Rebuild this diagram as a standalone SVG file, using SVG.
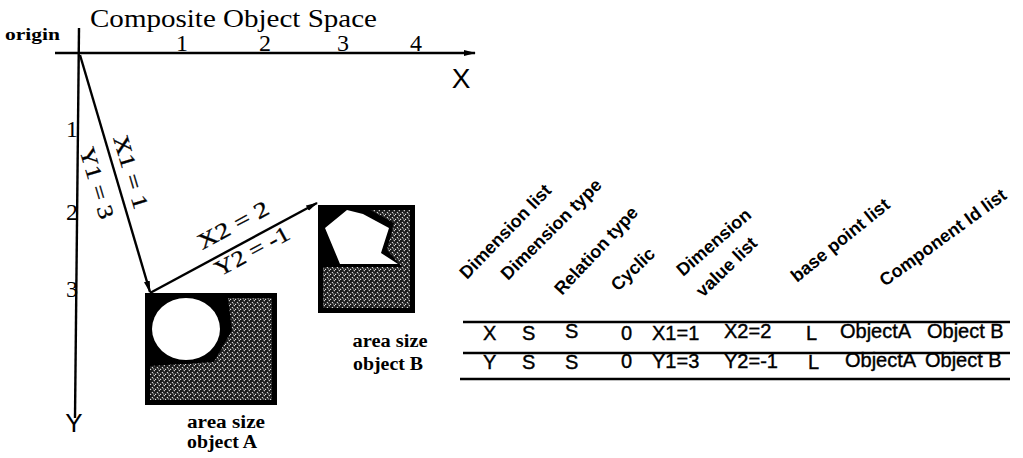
<svg xmlns="http://www.w3.org/2000/svg" width="1023" height="458" viewBox="0 0 1023 458">
<style>
.ser{font-family:"Liberation Serif","DejaVu Serif",serif;fill:#000}
.sans{font-family:"Liberation Sans",Arial,sans-serif;fill:#000}
.hdr{font-family:"Liberation Sans",Arial,sans-serif;font-size:18px;font-weight:bold;fill:#000}
.cell{font-family:"Liberation Sans",Arial,sans-serif;font-size:20px;fill:#000;stroke:#000;stroke-width:0.4}
.ax{stroke:#000;stroke-width:2.4;fill:none}
.vec{stroke:#000;stroke-width:2.4;fill:none;marker-end:url(#ah)}
.rule{stroke:#000;stroke-width:2.6}
.lbl{font-family:"Liberation Serif","DejaVu Serif",serif;font-size:22px;fill:#000;stroke:#000;stroke-width:0.3}
</style>
<defs>
<marker id="ah" markerWidth="12" markerHeight="8" refX="11" refY="4" orient="auto" markerUnits="userSpaceOnUse">
<path d="M0,1 L12,4 L0,7 z" fill="#000"/>
</marker>
<pattern id="speck" width="5" height="5" patternUnits="userSpaceOnUse">
<rect width="5" height="5" fill="#1c1c1c"/>
<path d="M0 5 L5 0" stroke="#e6e6e6" stroke-width="1.1" stroke-dasharray="1.4 1.3"/>
<rect x="3" y="3.4" width="1.2" height="1" fill="#b0b0b0"/>
</pattern>
</defs>
<rect width="1023" height="458" fill="#fff"/>

<g id="title">
<text class="ser" x="90" y="27" font-size="25" textLength="287" lengthAdjust="spacingAndGlyphs">Composite Object Space</text>
<text class="ser" x="5" y="40" font-size="17" font-weight="bold" textLength="55" lengthAdjust="spacingAndGlyphs">origin</text>
</g>

<g id="axes">
<line class="ax" x1="55" y1="53" x2="475" y2="53" marker-end="url(#ah)"/>
<line class="ax" x1="79" y1="28" x2="75" y2="418"/>
<text class="ser" x="182" y="51" font-size="24" text-anchor="middle">1</text>
<text class="ser" x="265" y="51" font-size="24" text-anchor="middle">2</text>
<text class="ser" x="343" y="51" font-size="24" text-anchor="middle">3</text>
<text class="ser" x="416" y="51" font-size="24" text-anchor="middle">4</text>
<text class="sans" x="461" y="88" font-size="28" text-anchor="middle">X</text>
<text class="ser" x="72" y="137" font-size="24" text-anchor="middle">1</text>
<text class="ser" x="72" y="220" font-size="24" text-anchor="middle">2</text>
<text class="ser" x="72" y="297" font-size="24" text-anchor="middle">3</text>
<text class="sans" x="74" y="432" font-size="26" text-anchor="middle">Y</text>
</g>

<g id="connectors">
<line class="vec" x1="80" y1="55" x2="150" y2="292"/>
<line class="vec" x1="150" y1="293" x2="317" y2="203"/>
<text class="lbl" text-anchor="middle" dominant-baseline="central" transform="translate(131,172) rotate(73.5)" textLength="76" lengthAdjust="spacingAndGlyphs">X1 = 1</text>
<text class="lbl" text-anchor="middle" dominant-baseline="central" transform="translate(97,183) rotate(73.5)" textLength="74" lengthAdjust="spacingAndGlyphs">Y1 = 3</text>
<text class="lbl" text-anchor="middle" dominant-baseline="central" transform="translate(233,225) rotate(-28.3)" textLength="78" lengthAdjust="spacingAndGlyphs">X2 = 2</text>
<text class="lbl" text-anchor="middle" dominant-baseline="central" transform="translate(252,251) rotate(-28.3)" textLength="82" lengthAdjust="spacingAndGlyphs">Y2 = -1</text>
</g>

<g id="objectA">
<rect x="145" y="293" width="132" height="112" fill="#000"/>
<rect x="150" y="298" width="122" height="102" fill="url(#speck)"/>
<path d="M150 298 H228 L232 330 L214 362 L150 366 Z" fill="#000"/>
<ellipse cx="186" cy="329" rx="38" ry="35" fill="#000"/>
<ellipse cx="186" cy="329" rx="34" ry="31" fill="#fff"/>
<text class="ser" x="226" y="428" font-size="18" font-weight="bold" text-anchor="middle" textLength="78" lengthAdjust="spacingAndGlyphs">area size</text>
<text class="ser" x="222" y="448" font-size="18" font-weight="bold" text-anchor="middle" textLength="70" lengthAdjust="spacingAndGlyphs">object A</text>
</g>

<g id="objectB">
<rect x="318" y="205" width="97" height="108" fill="#000"/>
<rect x="323" y="210" width="87" height="98" fill="url(#speck)"/>
<path d="M323 210 H370 L394 223 L387 250 L402 267 H323 Z" fill="#000"/>
<polygon points="325,228 347,210 363,214 389,228 381,253 398,264 340,264" fill="#fff"/>
<text class="ser" x="390" y="347" font-size="18" font-weight="bold" text-anchor="middle" textLength="75" lengthAdjust="spacingAndGlyphs">area size</text>
<text class="ser" x="388" y="370" font-size="18" font-weight="bold" text-anchor="middle" textLength="70" lengthAdjust="spacingAndGlyphs">object B</text>
</g>

<g id="headers">
<text class="hdr" transform="translate(467,280) rotate(-46)">Dimension list</text>
<text class="hdr" transform="translate(508,281) rotate(-45)">Dimension type</text>
<text class="hdr" transform="translate(562,296) rotate(-47)">Relation type</text>
<text class="hdr" transform="translate(618,292) rotate(-44)">Cyclic</text>
<text class="hdr" transform="translate(683,277) rotate(-41)">Dimension</text>
<text class="hdr" transform="translate(703,298) rotate(-44)">value list</text>
<text class="hdr" transform="translate(797,283) rotate(-39)">base point list</text>
<text class="hdr" transform="translate(885,287) rotate(-36)">Component Id list</text>
</g>

<g id="table">
<line class="rule" x1="463" y1="322" x2="1010" y2="322"/>
<line class="rule" x1="463" y1="353" x2="1010" y2="353"/>
<line class="rule" x1="460" y1="379" x2="1010" y2="379"/>
<text class="cell" x="483" y="340">X</text>
<text class="cell" x="522" y="340">S</text>
<text class="cell" x="565" y="338">S</text>
<text class="cell" x="621" y="340">0</text>
<text class="cell" x="652" y="340">X1=1</text>
<text class="cell" x="724" y="338">X2=2</text>
<text class="cell" x="806" y="340">L</text>
<text class="cell" x="840" y="338">ObjectA</text>
<text class="cell" x="927" y="338">Object B</text>
<text class="cell" x="483" y="369">Y</text>
<text class="cell" x="522" y="369">S</text>
<text class="cell" x="565" y="369">S</text>
<text class="cell" x="621" y="368">0</text>
<text class="cell" x="652" y="368">Y1=3</text>
<text class="cell" x="724" y="368">Y2=-1</text>
<text class="cell" x="808" y="369">L</text>
<text class="cell" x="845" y="367">ObjectA</text>
<text class="cell" x="925" y="367">Object B</text>
</g>
</svg>
